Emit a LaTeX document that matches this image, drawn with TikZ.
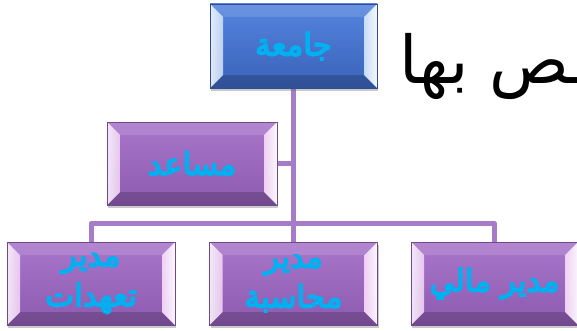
\documentclass[tikz,border=0pt]{standalone}
\usepackage{fontspec}
\usetikzlibrary{calc,shadows}
\TeXXeTstate=1
\newfontfamily\arabicfont[Script=Arabic]{DejaVu Sans}
\newfontfamily\arabicbold[Script=Arabic,FakeBold=5]{DejaVu Sans}
\pgfdeclarelayer{back}
\pgfsetlayers{back,main}
\definecolor{ptop}{HTML}{A976CB}
\definecolor{pbot}{HTML}{8C5AAE}
\definecolor{plight}{HTML}{F4D6F8}
\definecolor{btop}{HTML}{5584DF}
\definecolor{bbot}{HTML}{3A62B8}
\definecolor{blight}{HTML}{CFE2FA}
\definecolor{conncol}{HTML}{A67CC8}
\definecolor{labcol}{HTML}{00B0F0}
\tikzset{
  conn/.style={draw=conncol, line width=5pt, line join=round},
  facets/.style={path picture={
    \def\d{13pt}
    \coordinate (NW) at (path picture bounding box.north west);
    \coordinate (NE) at (path picture bounding box.north east);
    \coordinate (SW) at (path picture bounding box.south west);
    \coordinate (SE) at (path picture bounding box.south east);
    \coordinate (nw) at ($(NW)+(\d,-\d)$);
    \coordinate (ne) at ($(NE)+(-\d,-\d)$);
    \coordinate (sw) at ($(SW)+(\d,\d)$);
    \coordinate (se) at ($(SE)+(-\d,\d)$);
    \fill[white,opacity=0.12] (NW) -- (NE) -- (ne) -- (nw) -- cycle;
    \fill[black,opacity=0.18] (SW) -- (SE) -- (se) -- (sw) -- cycle;
    \shade[left color=#1!0, right color=#1, opacity=0.85] (NW) -- (nw) -- (sw) -- (SW) -- cycle;
    \shade[left color=#1, right color=#1!0, opacity=0.95] (NE) -- (ne) -- (se) -- (SE) -- cycle;
  }},
  pbox/.style={rectangle, minimum width=168pt, minimum height=83pt, inner sep=0pt,
    top color=ptop, bottom color=pbot, draw=pbot!80!black, line width=0.4pt,
    drop shadow={shadow xshift=1pt, shadow yshift=-3pt, opacity=0.35, fill=black!60},
    facets=plight, text=labcol, align=center,
    font=\arabicbold\fontsize{31}{40}\selectfont},
  bbox/.style={pbox, top color=btop, bottom color=bbot, draw=bbot!80!black, facets=blight},
  bigtext/.style={inner sep=0pt, font=\arabicfont\fontsize{66}{78}\selectfont}
}
\begin{document}
\begin{tikzpicture}[x=1pt,y=1pt]
\useasboundingbox (0,0) rectangle (577,330);
\node[bigtext, anchor=base east] (big) at (590,247) {\beginR ـص بها\endR};
\coordinate (bus) at (293.5,106.5);
\node[bbox, minimum width=167pt, minimum height=84pt] (top) at (293.5,284) {\beginR جامعة\endR};
\node[pbox, minimum width=170pt] (mos) at (192,166.5) {\beginR مساعد\endR};
\node[pbox] (b1) at (91,46.5) {\beginR مدير\endR\\\beginR تعهدات\endR};
\node[pbox] (b2) at (293.5,46.5) {\beginR مدير\endR\\\beginR محاسبة\endR};
\node[pbox, minimum width=167pt] (b3) at (494.5,46.5) {\beginR مدير مالي\endR};
\begin{pgfonlayer}{back}
\fill[white] (0,0) rectangle (577,330);
\draw[conn] (top.south) -- (b2.north);
\draw[conn] (mos.east) -- (mos.east -| top.south);
\draw[conn] (b1.north) |- (bus) -| (b3.north);
\end{pgfonlayer}
\end{tikzpicture}
\end{document}
